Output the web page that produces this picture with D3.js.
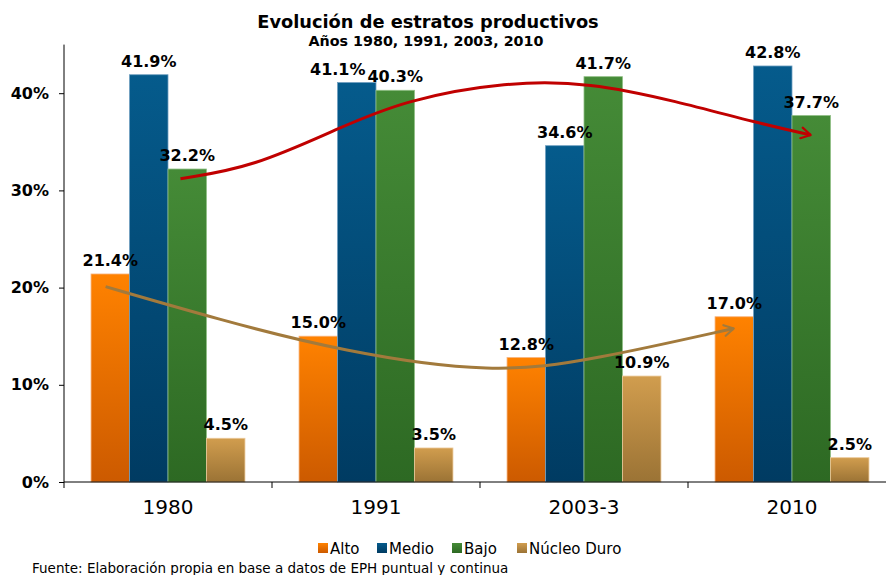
<!DOCTYPE html>
<html>
<head>
<meta charset="utf-8">
<script src="https://cdn.jsdelivr.net/npm/d3@7"></script>
<style>
  body { margin: 0; background: #fff; }
  svg { display: block; font-family: "DejaVu Sans", Verdana, sans-serif; }
</style>
</head>
<body>
<div id="chart"></div>
<script>
// data
var years = ["1980", "1991", "2003-3", "2010"];
var series = ["Alto", "Medio", "Bajo", "Núcleo Duro"];
var alto = [21.4, 15.0, 12.8, 17.0];
var medio = [41.9, 41.1, 34.6, 42.8];
var bajo = [32.2, 40.3, 41.7, 37.7];
var nucleo = [4.5, 3.5, 10.9, 2.5];
var yTicks = [0, 10, 20, 30, 40];

// trend arrows, in (category position, percent)
var redTrend = [[0.56, 31.2], [0.91, 32.4], [1.32, 36.4], [1.64, 39.3], [2.13, 41.2], [2.53, 41.1], [2.94, 39.2], [3.34, 36.9], [3.59, 35.7]];
var brownTrend = [[0.2, 20.1], [0.73, 16.8], [1.34, 13.4], [2.07, 11.1], [2.55, 12.6], [3.22, 15.8]];

var colors = {
  "Alto": ["#ff8200", "#cc5a00", "#f7b27a"],
  "Medio": ["#055b8c", "#003b62", "#6f9fc0"],
  "Bajo": ["#458b37", "#2d6923", "#8fbf84"],
  "Núcleo Duro": ["#d19d4e", "#9b7335", "#ecc999"]
};
var values = [alto, medio, bajo, nucleo];

var svgWidth = 886;
var svgHeight = 575;

var svg = d3.select("#chart")
  .append("svg")
  .attr("width", svgWidth)
  .attr("height", svgHeight);

// gradients for the bars
var defs = svg.append("defs");
series.forEach(function(s, i) {
  var g = defs.append("linearGradient")
    .attr("id", "grad" + i)
    .attr("x1", 0).attr("y1", 0).attr("x2", 0).attr("y2", 1);
  g.append("stop").attr("offset", "0%").attr("stop-color", colors[s][0]);
  g.append("stop").attr("offset", "100%").attr("stop-color", colors[s][1]);
});

// arrow heads
function addMarker(id, color) {
  defs.append("marker")
    .attr("id", id)
    .attr("viewBox", "0 0 10 10")
    .attr("refX", 8).attr("refY", 5)
    .attr("markerWidth", 4.5).attr("markerHeight", 4.5)
    .attr("markerUnits", "strokeWidth")
    .attr("orient", "auto")
    .append("path")
    .attr("d", "M1,1 L8,5 L1,9")
    .attr("fill", "none")
    .attr("stroke", color)
    .attr("stroke-width", 1.6)
    .attr("stroke-linecap", "round")
    .attr("stroke-linejoin", "round");
}
addMarker("arrRed", "#c00000");
addMarker("arrBrown", "#a27a3c");

// scales
var x0 = d3.scaleBand().domain(years).range([64, 896]);
var bw = x0.bandwidth();
var x1 = d3.scaleBand().domain(series).range([bw * 0.13, bw * 0.87]);
var xPos = d3.scaleLinear().domain([0, 4]).range([64, 896]);
var y = d3.scaleLinear().domain([0, 45]).range([482, 44.6]);

// bars
var groups = svg.selectAll(".year")
  .data(years)
  .enter()
  .append("g")
  .attr("transform", d => `translate(${x0(d)},0)`);

groups.selectAll("rect")
  .data((d, j) => series.map((s, i) => ({ s: s, i: i, v: values[i][j] })))
  .enter()
  .append("rect")
  .attr("x", d => x1(d.s))
  .attr("y", d => y(d.v))
  .attr("width", x1.bandwidth())
  .attr("height", d => y(0) - y(d.v))
  .attr("fill", d => `url(#grad${d.i})`)
  .attr("stroke", d => colors[d.s][2])
  .attr("stroke-width", 0.8);

// trend curves
var line = d3.line()
  .x(d => xPos(d[0]))
  .y(d => y(d[1]))
  .curve(d3.curveBasis);

svg.append("path")
  .attr("d", line(redTrend))
  .attr("fill", "none")
  .attr("stroke", "#c00000")
  .attr("stroke-width", 3)
  .attr("marker-end", "url(#arrRed)");

svg.append("path")
  .attr("d", line(brownTrend))
  .attr("fill", "none")
  .attr("stroke", "#a27a3c")
  .attr("stroke-width", 3)
  .attr("marker-end", "url(#arrBrown)");

// value labels (the 1991 Medio label sits a bit to the left, as in the original)
function labelShift(s, j) {
  return (s === "Medio" && j === 1) ? -19 : 0;
}
groups.selectAll(".val")
  .data((d, j) => series.map((s, i) => ({ s: s, j: j, v: values[i][j] })))
  .enter()
  .append("text")
  .attr("x", d => x1(d.s) + x1.bandwidth() / 2 + labelShift(d.s, d.j))
  .attr("y", d => y(d.v) - 8)
  .attr("text-anchor", "middle")
  .attr("font-size", 16)
  .attr("font-weight", "bold")
  .attr("fill", "#000")
  .text(d => d.v.toFixed(1) + "%");

// y axis
var yAxis = svg.append("g")
  .attr("transform", "translate(64,0)")
  .call(d3.axisLeft(y).tickValues(yTicks).tickSize(5).tickPadding(10).tickFormat(d => d + "%"));
yAxis.select(".domain").attr("d", `M0,${y(45)}V${y(0)}`).attr("stroke", "#000");
yAxis.selectAll("text")
  .attr("font-size", 16)
  .attr("font-weight", "bold")
  .attr("font-family", "DejaVu Sans, Verdana, sans-serif")
  .attr("fill", "#000");

// x axis
var xAxis = svg.append("g")
  .attr("transform", `translate(0,${y(0)})`)
  .call(d3.axisBottom(x0).tickSize(0).tickPadding(18));
xAxis.select(".domain").attr("d", "M64,0H896").attr("stroke", "#000");
xAxis.selectAll("text")
  .attr("font-size", 20)
  .attr("font-family", "DejaVu Sans, Verdana, sans-serif")
  .attr("fill", "#000");
// boundary ticks between categories
xAxis.selectAll(".sep")
  .data(years)
  .enter()
  .append("line")
  .attr("x1", d => x0(d)).attr("x2", d => x0(d))
  .attr("y1", 0).attr("y2", 6)
  .attr("stroke", "#000");

// title
svg.append("text")
  .attr("x", 428).attr("y", 28)
  .attr("text-anchor", "middle")
  .attr("font-size", 17.8)
  .attr("font-weight", "bold")
  .text("Evolución de estratos productivos");

svg.append("text")
  .attr("x", 426).attr("y", 46)
  .attr("text-anchor", "middle")
  .attr("font-size", 14.3)
  .attr("font-weight", "bold")
  .text("Años 1980, 1991, 2003, 2010");

// legend
var legendX = [318, 377, 452, 517];
var legend = svg.selectAll(".legend")
  .data(series)
  .enter()
  .append("g")
  .attr("transform", (d, i) => `translate(${legendX[i]},548)`);
legend.append("rect")
  .attr("x", 0).attr("y", -5)
  .attr("width", 10).attr("height", 10)
  .attr("fill", (d, i) => `url(#grad${i})`);
legend.append("text")
  .attr("x", 12).attr("y", 5.5)
  .attr("font-size", 15)
  .text(d => d);

// source
svg.append("text")
  .attr("x", 32).attr("y", 573)
  .attr("font-size", 13.5)
  .text("Fuente: Elaboración propia en base a datos de EPH puntual y continua");
</script>
</body>
</html>
